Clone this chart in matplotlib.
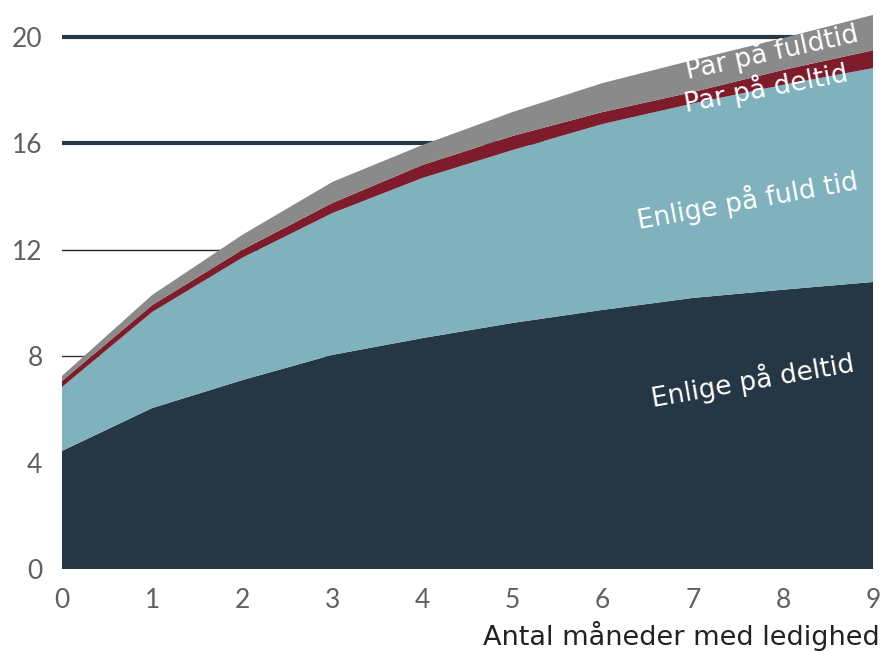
import matplotlib
matplotlib.use("Agg")
import matplotlib.pyplot as plt
import numpy as np

months = [0, 1, 2, 3, 4, 5, 6, 7, 8, 9]
enlige_deltid = [4.44, 6.05, 7.10, 8.05, 8.68, 9.25, 9.74, 10.19, 10.50, 10.79]
enlige_fuldtid = [2.40, 3.61, 4.60, 5.33, 6.02, 6.50, 6.99, 7.31, 7.70, 8.04]
par_deltid = [0.23, 0.26, 0.30, 0.38, 0.49, 0.53, 0.45, 0.43, 0.56, 0.67]
par_fuldtid = [0.19, 0.38, 0.56, 0.79, 0.75, 0.90, 1.09, 1.20, 1.20, 1.33]
y_ticks = [0, 4, 8, 12, 16, 20]
series_names = ["Enlige på deltid", "Enlige på fuld tid", "Par på deltid", "Par på fuldtid"]

colors = ["#253645", "#80B2BE", "#7E1C2B", "#8A8A8A"]

plt.rcParams['font.family'] = ['Lato', 'DejaVu Sans']

fig = plt.figure(figsize=(8.86, 6.51), dpi=100)
ax = fig.add_axes([62/886, 1-569/651, (873-62)/886, (569-10.4)/651])

# gridlines (behind areas)
grid_styles = {8: (1.0, "#333333"), 12: (1.0, "#222222"), 16: (3.0, "#263746"), 20: (3.0, "#263746")}
for yv, (lw, c) in grid_styles.items():
    ax.axhline(yv, xmin=0, xmax=1, color=c, lw=lw, zorder=1)

ax.stackplot(months, enlige_deltid, enlige_fuldtid, par_deltid, par_fuldtid,
             colors=colors, zorder=2, linewidth=0)

ax.set_xlim(0, 9)
ax.set_ylim(0, 21)
ax.set_xticks(months)
ax.set_yticks(y_ticks)
ax.tick_params(length=0, labelsize=19, colors="#606060")
ax.tick_params(axis='x', pad=14)
ax.tick_params(axis='y', pad=14)
for s in ax.spines.values():
    s.set_visible(False)

ax.text(1.008, -0.12, "Antal måneder med ledighed", transform=ax.transAxes,
        ha="right", va="center", fontsize=19.5, color="#222222", family=['DejaVu Sans'])

lbl_kw = dict(color="white", ha="center", va="center", fontsize=19, zorder=5, family=['DejaVu Sans'])
ax.text(7.88, 19.44, series_names[3], rotation=12.4, **lbl_kw)
ax.text(7.81, 18.08, series_names[2], rotation=10.8, **lbl_kw)
ax.text(7.61, 13.87, series_names[1], rotation=10.3, **lbl_kw)
ax.text(7.66, 7.1, series_names[0], rotation=10, **lbl_kw)

fig.savefig("out.png", dpi=100)
